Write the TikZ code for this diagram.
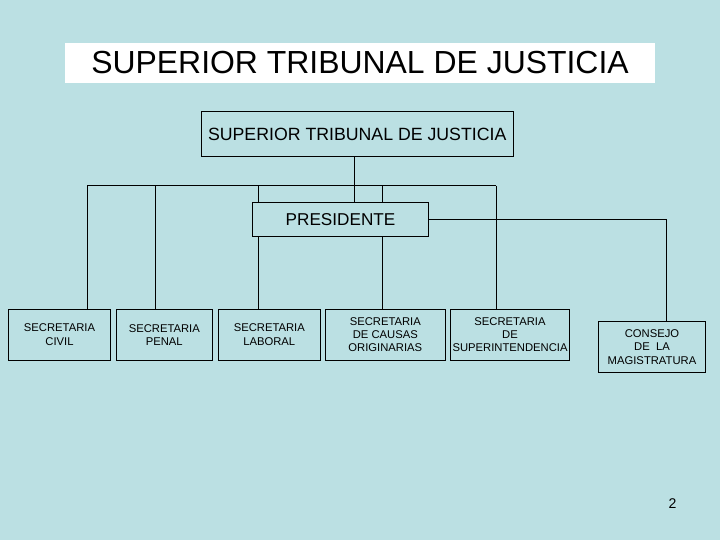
\documentclass[tikz,border=0pt]{standalone}
\usepackage{fontspec}
\setmainfont{Liberation Sans}
\usepackage{tikz}
\usetikzlibrary{positioning,calc}
\definecolor{fondo}{RGB}{187,224,227}
\tikzset{
  lin/.style={line width=0.7pt},
  caja/.style={draw,line width=0.7pt,align=center,inner sep=1pt},
  sec/.style={caja,minimum height=1.27cm,font=\fontsize{8}{9.4}\selectfont}
}
\begin{document}
\begin{tikzpicture}[x=0.025cm,y=-0.025cm,
 top/.style={caja,font=\fontsize{12.6}{15}\selectfont},
 tit/.style={fill=white,minimum width=14.75cm,minimum height=1cm,inner sep=0pt,font=\fontsize{22.7}{27}\selectfont}]
\fill[fondo] (0,0) rectangle (720,540);
\node[tit] (titulo) at (360,63) {SUPERIOR TRIBUNAL DE JUSTICIA};
\node[top,minimum width=7.79cm,minimum height=1.11cm] (stj) at (357.2,133.9) {SUPERIOR TRIBUNAL DE JUSTICIA};
\node[top,minimum width=4.41cm,minimum height=0.85cm,font=\fontsize{12.2}{15}\selectfont] (pres) at (340.5,219.3) {PRESIDENTE};
\node[sec,minimum width=2.56cm] (civ) at (59.5,334.7) {SECRETARIA\\CIVIL};
\node[sec,minimum width=2.4cm] (pen) at (164.3,334.7) {SECRETARIA\\PENAL};
\node[sec,minimum width=2.55cm] (lab) at (269.3,334.7) {SECRETARIA\\LABORAL};
\node[sec,minimum width=3cm] (cau) at (385.3,334.7) {SECRETARIA\\DE CAUSAS\\ORIGINARIAS};
\node[sec,minimum width=2.97cm] (sup) at (510,334.7) {SECRETARIA\\DE\\SUPERINTENDENCIA};
\node[sec,minimum width=2.69cm] (con) at (652,347) {CONSEJO\\DE \ LA\\MAGISTRATURA};
\node[font=\fontsize{10}{12}\selectfont] (pag) at (672.5,504) {2};
% bus taps
\coordinate (t0) at (354.5,185.5);
\coordinate (t1) at (87,185.5);
\coordinate (t2) at (155.7,185.5);
\coordinate (t3) at (258.5,185.5);
\coordinate (t4) at (382.7,185.5);
\coordinate (t5) at (496.3,185.5);
\coordinate (t6) at (666.7,219.3);
\draw[lin] (t0 |- stj.south) -- (t0 |- pres.north);
\draw[lin] (t1) -- (t5);
\foreach \t/\n in {t1/civ,t2/pen,t5/sup}
  \draw[lin] (\t) -- (\t |- \n.north);
\foreach \t/\n in {t3/lab,t4/cau}
  \draw[lin] (\t) -- (\t |- pres.north) (\t |- pres.south) -- (\t |- \n.north);
\draw[lin] (pres.east) -- (t6) -- (t6 |- con.north);
\end{tikzpicture}
\end{document}
